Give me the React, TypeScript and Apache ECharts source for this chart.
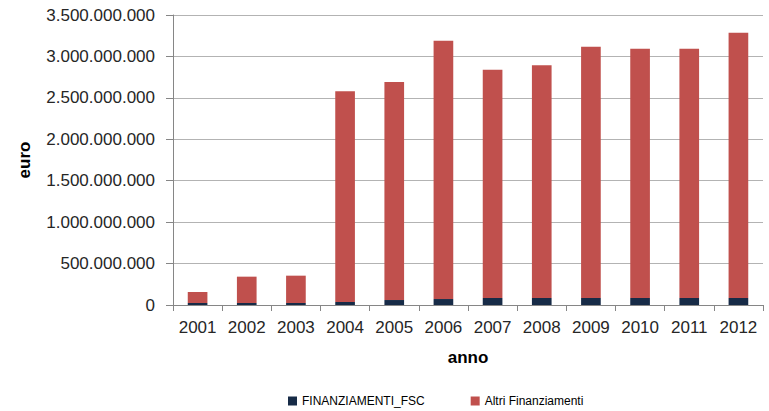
import React, { useEffect, useRef } from "react";
import * as echarts from "echarts";

const categories = ["2001", "2002", "2003", "2004", "2005", "2006", "2007", "2008", "2009", "2010", "2011", "2012"];
const fsc = [24e6, 24e6, 24e6, 36e6, 60e6, 72e6, 85e6, 85e6, 85e6, 85e6, 85e6, 85e6];
const altri = [133e6, 318e6, 330e6, 2545e6, 2630e6, 3118e6, 2755e6, 2810e6, 3032e6, 3008e6, 3008e6, 3202e6];
const seriesNames = ["FINANZIAMENTI_FSC", "Altri Finanziamenti"];

const fmt = (v: number) => String(Math.round(v)).replace(/\B(?=(\d{3})+(?!\d))/g, ".");

export default function App() {
  const ref = useRef<HTMLDivElement>(null);
  useEffect(() => {
    if (!ref.current) return;
    const chart = echarts.init(ref.current, null, { renderer: "svg" });
    const font = "'Liberation Sans', Arial, sans-serif";
    chart.setOption({
      animation: false,
      textStyle: { fontFamily: font },
      grid: { left: 173, right: 6, top: 15, bottom: 106, containLabel: false },
      legend: {
        left: 283,
        top: 390,
        itemWidth: 9,
        itemHeight: 9,
        itemGap: 46,
        icon: "rect",
        textStyle: { fontSize: 12, color: "#000", fontFamily: font },
        data: seriesNames,
      },
      xAxis: {
        type: "category",
        data: categories,
        name: "anno",
        nameLocation: "middle",
        nameGap: 44,
        nameTextStyle: { fontSize: 17, fontWeight: "bold", color: "#000", fontFamily: font },
        axisLine: { lineStyle: { color: "#868686", width: 1 } },
        axisTick: { show: true, length: 6, lineStyle: { color: "#868686" } },
        axisLabel: { fontSize: 17, color: "#262626", margin: 14, fontFamily: font },
      },
      yAxis: {
        type: "value",
        min: 0,
        max: 3500000000,
        interval: 500000000,
        name: "euro",
        nameLocation: "middle",
        nameGap: 140,
        nameTextStyle: { fontSize: 17, fontWeight: "bold", color: "#000", fontFamily: font },
        axisLine: { show: true, lineStyle: { color: "#868686", width: 1 } },
        axisTick: { show: true, length: 7, lineStyle: { color: "#868686" } },
        axisLabel: { fontSize: 17, color: "#262626", margin: 18, fontFamily: font, formatter: (v: number) => fmt(v) },
        splitLine: { show: true, lineStyle: { color: "#b3b3b3", width: 1 } },
      },
      series: [
        {
          name: seriesNames[0],
          type: "bar",
          stack: "tot",
          data: fsc,
          barWidth: "40%",
          itemStyle: { color: "#172b47" },
        },
        {
          name: seriesNames[1],
          type: "bar",
          stack: "tot",
          data: altri,
          barWidth: "40%",
          itemStyle: { color: "#c0504d" },
        },
      ],
    });
    return () => chart.dispose();
  }, []);
  return <div ref={ref} style={{ position: "absolute", left: 0, top: 0, width: 769, height: 411 }} />;
}
